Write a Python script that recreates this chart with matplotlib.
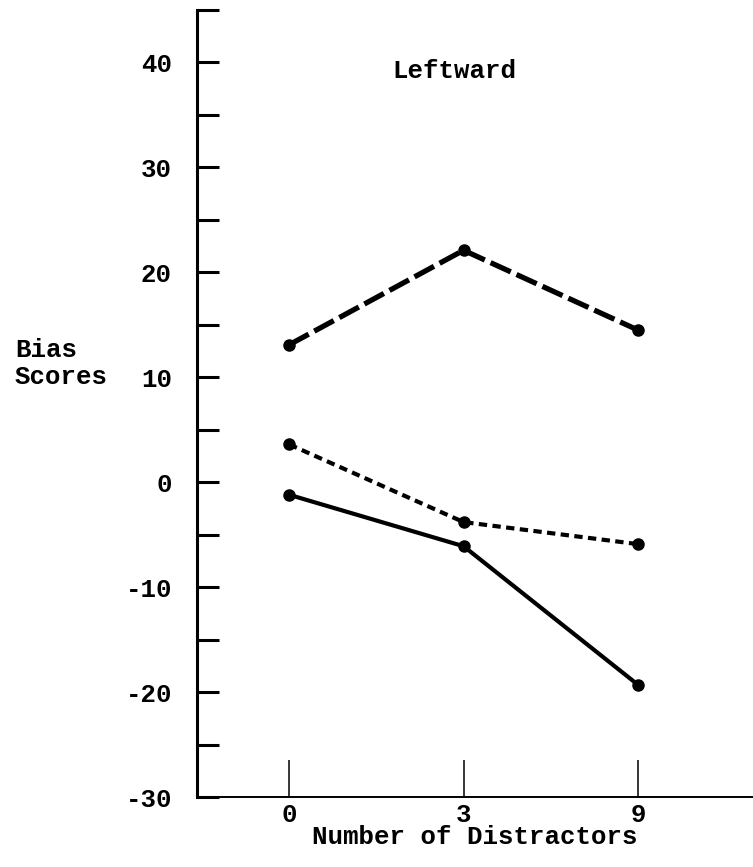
import matplotlib
matplotlib.use("Agg")
import matplotlib.pyplot as plt
from matplotlib.ticker import MultipleLocator

# data
distractors = ["0", "3", "9"]
dashed_vals = [13.1, 22.1, 14.5]
dotted_vals = [3.6, -3.8, -5.9]
solid_vals = [-1.2, -6.1, -19.3]

plt.rcParams["font.family"] = ["Liberation Mono", "DejaVu Sans Mono"]
plt.rcParams["font.size"] = 18.5
plt.rcParams["font.weight"] = "bold"
plt.rcParams["axes.labelweight"] = "bold"
plt.rcParams["axes.unicode_minus"] = False

fig = plt.figure(figsize=(7.53, 8.67), dpi=100)
ax = fig.add_axes([0.2616, 0.0807, 0.7384, 0.9078])

xs = range(len(distractors))

ax.plot(xs, dashed_vals, color="black", lw=3.8, dashes=(4.2, 1.2),
        marker="o", markersize=8)
ax.plot(xs, dotted_vals, color="black", lw=3.0, dashes=(2.0, 1.3),
        marker="o", markersize=8)
ax.plot(xs, solid_vals, color="black", lw=3.0, marker="o", markersize=8)

ax.set_xlim(-0.529, 2.66)
ax.set_ylim(-30, 45)

ax.set_xticks(list(xs))
ax.set_xticklabels(distractors)
ax.yaxis.set_major_locator(MultipleLocator(10))
ax.yaxis.set_minor_locator(MultipleLocator(5))
ax.set_yticks([-30, -20, -10, 0, 10, 20, 30, 40])

ax.tick_params(axis="y", which="both", direction="in", length=15.8,
               width=2.2, pad=18)
ax.tick_params(axis="x", direction="in", length=26.6, width=1.1, pad=4)

for s in ["top", "right"]:
    ax.spines[s].set_visible(False)
ax.spines["left"].set_linewidth(2.2)
ax.spines["bottom"].set_linewidth(1.4)

ax.set_xlabel("Number of Distractors", labelpad=-1)
ax.text(0.95, 39.2, "Leftward", ha="center", va="center")

fig.text(15 / 753, 1 - 350 / 867, "Bias", ha="left", va="center")
fig.text(15 / 753, 1 - 377 / 867, "Scores", ha="left", va="center")

fig.savefig("out.png", dpi=100)
